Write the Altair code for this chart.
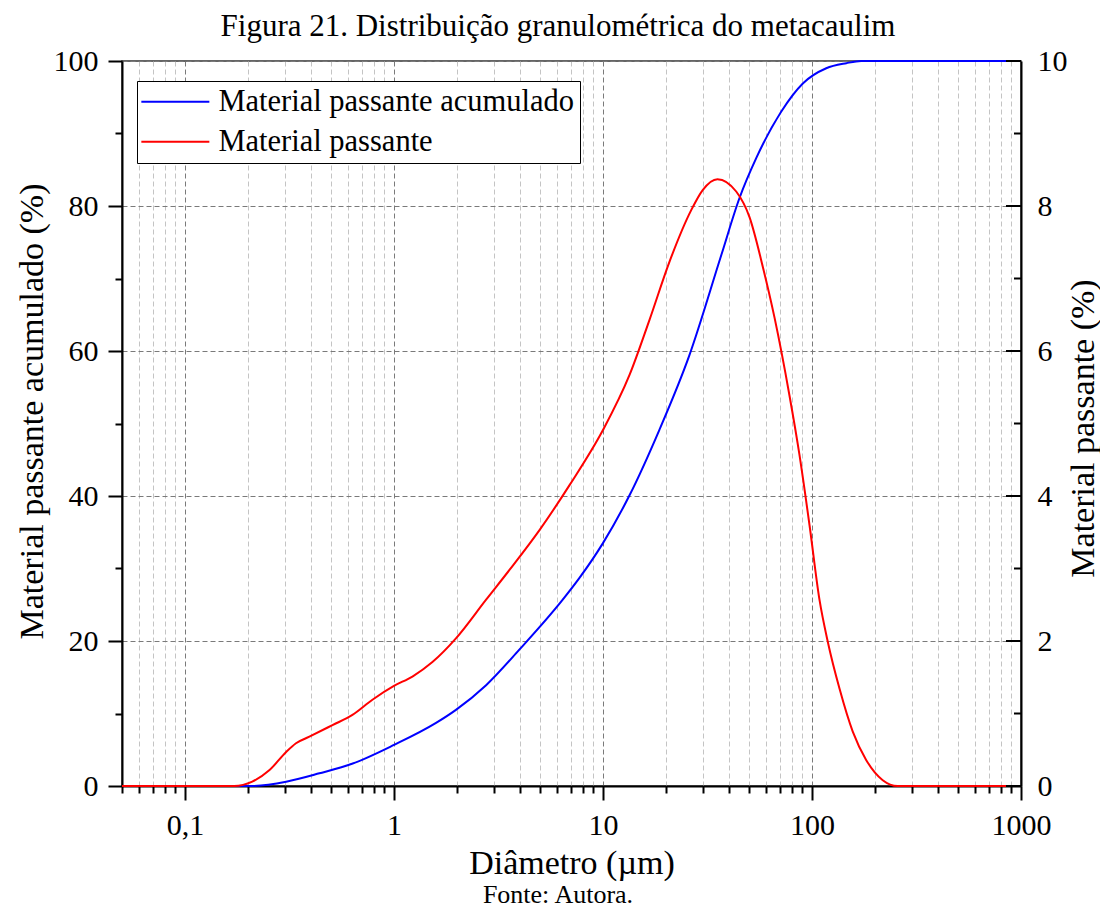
import altair as alt
import pandas as pd

# ---------------- data ----------------
diam_cum = [0.05, 0.204, 0.305, 0.44, 0.635, 1.0, 1.59, 1.98, 2.76, 3.98,
            6.42, 7.72, 10, 13.4, 18.6, 25.9, 36.8, 45, 54.1, 71.2,
            90.4, 117, 146, 172, 880]
cum_vals = [0, 0, 0.6, 1.75, 3.1, 5.66, 8.7, 10.5, 13.9, 18.8,
            25.7, 28.7, 33.5, 40.1, 49.1, 59.4, 73.2, 81.1, 86.6, 93.0,
            96.9, 99.0, 99.7, 100, 100]

diam_freq = [0.05, 0.172, 0.21, 0.254, 0.305, 0.34, 0.394, 0.508, 0.633, 0.789,
             1.0, 1.226, 1.528, 1.985, 2.76, 3.57, 4.97, 6.92, 10, 13.4,
             16.7, 20.8, 26.4, 30.0, 35.3, 43.4, 50.2, 58.2, 66.2, 78,
             87.1, 97.3, 108.6, 119, 135.5, 156.7, 181.6, 218, 257, 880]
freq_vals = [0, 0, 0.06, 0.22, 0.47, 0.59, 0.68, 0.84, 0.98, 1.19,
             1.38, 1.51, 1.71, 2.04, 2.57, 2.98, 3.53, 4.15, 4.91, 5.67,
             6.43, 7.23, 7.94, 8.22, 8.37, 8.20, 7.85, 7.16, 6.46, 5.39,
             4.57, 3.6, 2.57, 1.99, 1.34, 0.75, 0.36, 0.08, 0, 0]

series_names = ["Material passante acumulado", "Material passante"]
series_colors = ["#0000FF", "#FF0000"]

x_major = [0.1, 1, 10, 100, 1000]
x_minor = [0.05, 0.06, 0.07, 0.08, 0.09,
           0.2, 0.3, 0.4, 0.5, 0.6, 0.7, 0.8, 0.9,
           2, 3, 4, 5, 6, 7, 8, 9,
           20, 30, 40, 50, 60, 70, 80, 90,
           200, 300, 400, 500, 600, 700, 800, 900]
yl_major = [0, 20, 40, 60, 80, 100]
yl_minor = [10, 30, 50, 70, 90]
yr_major = [0, 2, 4, 6, 8, 10]
yr_minor = [1, 3, 5, 7, 9]

title_text = "Figura 21. Distribuição granulométrica do metacaulim"
source_text = "Fonte: Autora."
x_title = "Diâmetro (µm)"
yl_title = "Material passante acumulado (%)"
yr_title = "Material passante (%)"

# ---------------- layout ----------------
W, H = 899, 725
FONT = "Liberation Serif"

cum_df = pd.DataFrame({"d": diam_cum, "v": cum_vals, "serie": series_names[0]})
freq_df = pd.DataFrame({"d": diam_freq, "v": freq_vals, "serie": series_names[1]})

xscale = alt.Scale(type="log", domain=[0.05, 1000], nice=False)

# legend line: custom path 5 units long, scaled by sqrt(size)/2 -> 68 px
color = alt.Color(
    "serie:N",
    scale=alt.Scale(domain=series_names, range=series_colors),
    legend=alt.Legend(
        orient="none", legendX=15, legendY=20, title=None,
        fillColor="white", strokeColor="black", padding=5.5,
        symbolType="M-2.5,0H2.5", symbolSize=740, symbolStrokeWidth=2,
        symbolOffset=17.6,
        labelFont=FONT, labelFontSize=30.5, labelColor="black",
        labelOffset=27.8, labelLimit=800, rowPadding=9,
    ),
)

blue = alt.Chart(cum_df).mark_line(strokeWidth=2, interpolate="monotone").encode(
    x=alt.X("d:Q", scale=xscale, title=x_title,
            axis=alt.Axis(orient="bottom", values=x_major,
                          labelExpr="datum.value < 1 ? '0,1' : format(datum.value, 'd')",
                          labelFlush=False,
                          tickSize=14, tickWidth=2, tickColor="black",
                          domainColor="black", domainWidth=2,
                          grid=True, gridColor="#7a7a7a", gridDash=[5, 3], gridWidth=1,
                          labelFontSize=30, labelPadding=10,
                          titleFontSize=34, titleY=87, titleBaseline="alphabetic")),
    y=alt.Y("v:Q", scale=alt.Scale(domain=[0, 100], nice=False), title=yl_title,
            axis=alt.Axis(orient="left", values=yl_major,
                          tickSize=14, tickWidth=2, tickColor="black",
                          domainColor="black", domainWidth=2,
                          grid=True, gridColor="#7a7a7a", gridDash=[5, 3], gridWidth=1,
                          labelFontSize=30, labelPadding=10,
                          titleFontSize=34, titleX=-80, titleY=350,
                          titleBaseline="alphabetic", titleAngle=270)),
    color=color,
)

red = alt.Chart(freq_df).mark_line(strokeWidth=2, interpolate="monotone").encode(
    x=alt.X("d:Q", scale=xscale, axis=None),
    y=alt.Y("v:Q", scale=alt.Scale(domain=[0, 10], nice=False), title=yr_title,
            axis=alt.Axis(orient="right", values=yr_major, ticks=False,
                          domainColor="black", domainWidth=2, grid=False,
                          labelFontSize=30, labelPadding=16,
                          titleFontSize=34, titleX=72, titleY=367,
                          titleBaseline="alphabetic", titleAngle=270)),
    color=color,
)

minor_x = alt.Chart(pd.DataFrame({"d": x_minor})).mark_rule(opacity=0).encode(
    x=alt.X("d:Q", scale=xscale, title=None,
            axis=alt.Axis(orient="bottom", values=x_minor, tickSize=7, tickWidth=2,
                          tickColor="black", labels=False, domain=False,
                          grid=True, gridColor="#c4c4c4", gridDash=[5, 3], gridWidth=1)),
    y=alt.value(0), y2=alt.value(0),
)

minor_yl = alt.Chart(pd.DataFrame({"v": yl_minor})).mark_rule(opacity=0).encode(
    y=alt.Y("v:Q", scale=alt.Scale(domain=[0, 100], nice=False), title=None,
            axis=alt.Axis(orient="left", values=yl_minor, tickSize=7, tickWidth=2,
                          tickColor="black", labels=False, domain=False, grid=False)),
    x=alt.value(0), x2=alt.value(0),
)

yr_scale = alt.Scale(domain=[0, 10], nice=False)
right_major = alt.Chart(pd.DataFrame({"v": yr_major})).mark_rule(color="black", strokeWidth=2).encode(
    y=alt.Y("v:Q", scale=yr_scale, axis=None),
    x=alt.value(W - 15), x2=alt.value(W),
)
right_minor = alt.Chart(pd.DataFrame({"v": yr_minor})).mark_rule(color="black", strokeWidth=2).encode(
    y=alt.Y("v:Q", scale=yr_scale, axis=None),
    x=alt.value(W - 7), x2=alt.value(W),
)

title_layer = alt.Chart(pd.DataFrame({"t": [title_text]})).mark_text(
    font=FONT, fontSize=31, align="center", baseline="alphabetic", color="black"
).encode(text="t:N", x=alt.value(436), y=alt.value(-25))

source_layer = alt.Chart(pd.DataFrame({"t": [source_text]})).mark_text(
    font=FONT, fontSize=26, align="center", baseline="alphabetic", color="black"
).encode(text="t:N", x=alt.value(436), y=alt.value(842))

chart = alt.layer(
    minor_x, minor_yl, blue, red, right_major, right_minor, title_layer, source_layer
).resolve_scale(
    x="shared", y="independent", color="shared"
).resolve_axis(
    x="independent", y="independent"
).properties(
    width=W, height=H,
    autosize=alt.AutoSizeParams(type="none"),
    padding={"left": 114, "top": 53, "right": 79, "bottom": 124},
).configure_view(
    stroke="#333333", strokeWidth=1.5
).configure_axis(
    labelFont=FONT, titleFont=FONT, labelColor="black", titleColor="black",
    titleFontWeight="normal"
)

chart.save("out.html", embed_options={"renderer": "svg", "actions": False})
